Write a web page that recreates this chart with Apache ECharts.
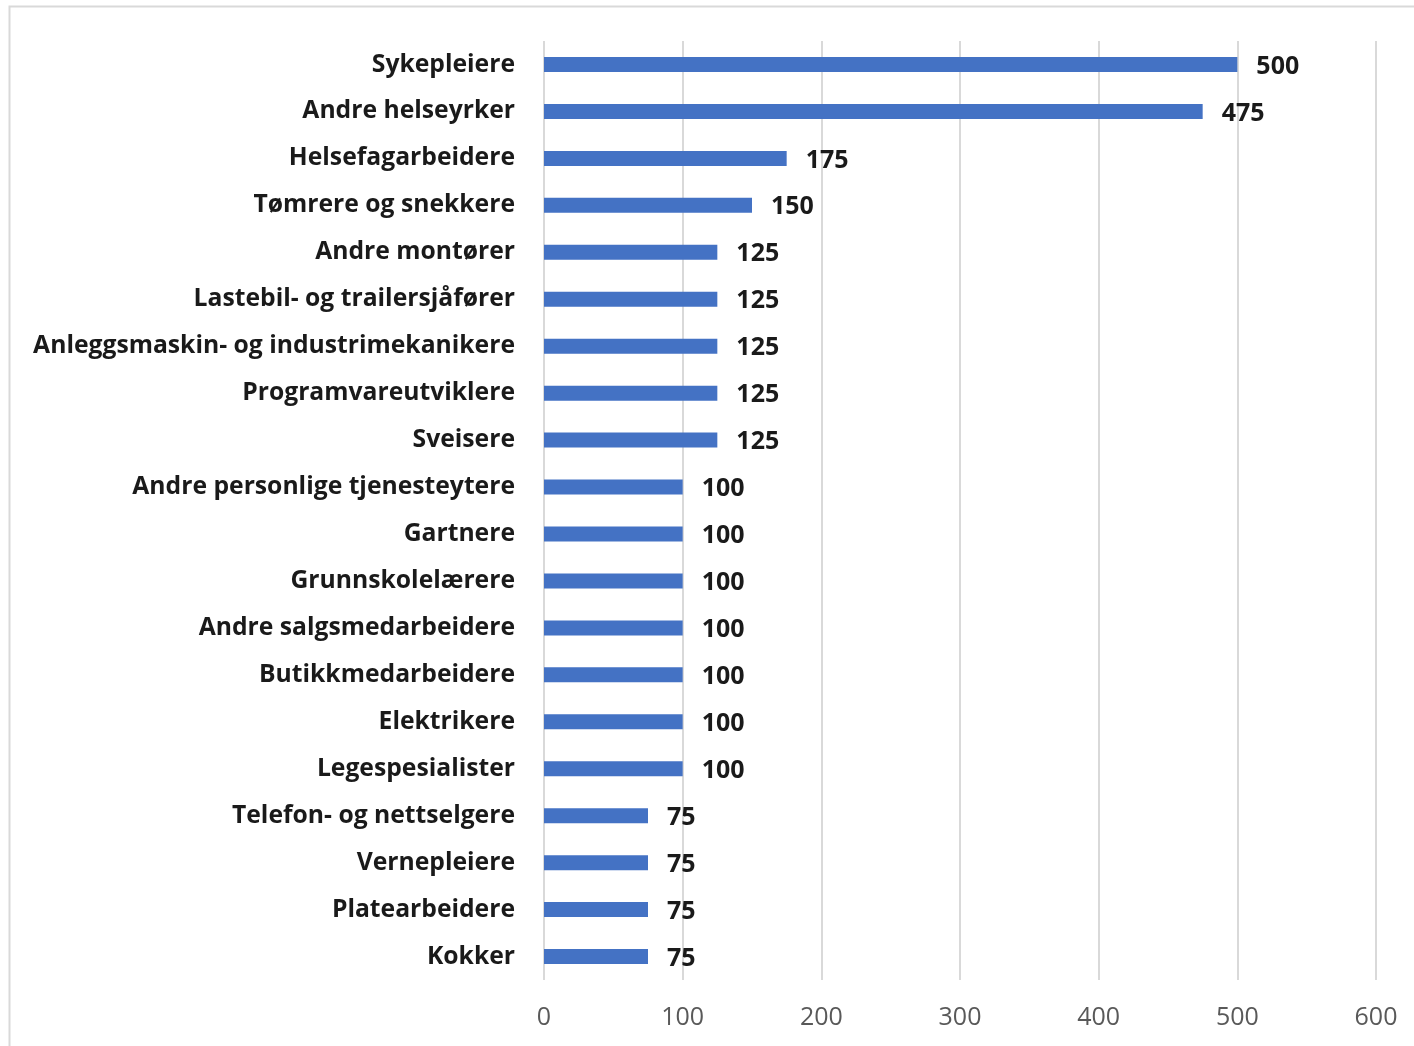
<!DOCTYPE html>
<html><head><meta charset="utf-8">
<script src="https://cdn.jsdelivr.net/npm/echarts@6/dist/echarts.min.js"></script>
<style>html,body{margin:0;padding:0;background:#fff}#c{width:1414px;height:1046px}</style>
</head><body><div id="c"></div>
<script>
const categories = ["Sykepleiere","Andre helseyrker","Helsefagarbeidere","Tømrere og snekkere","Andre montører","Lastebil- og trailersjåfører","Anleggsmaskin- og industrimekanikere","Programvareutviklere","Sveisere","Andre personlige tjenesteytere","Gartnere","Grunnskolelærere","Andre salgsmedarbeidere","Butikkmedarbeidere","Elektrikere","Legespesialister","Telefon- og nettselgere","Vernepleiere","Platearbeidere","Kokker"];
const values = [500,475,175,150,125,125,125,125,125,100,100,100,100,100,100,100,75,75,75,75];
const xTicks = [0,100,200,300,400,500,600];

const chart = echarts.init(document.getElementById('c'));
chart.setOption({
  animation:false,
  graphic:[{type:'rect',shape:{x:9.5,y:6.5,width:1440,height:1080},style:{fill:'none',stroke:'#d9d9d9',lineWidth:2},silent:true}],
  grid:{left:544,right:38,top:41,bottom:66,containLabel:false},
  xAxis:{type:'value',min:xTicks[0],max:xTicks[xTicks.length-1],interval:100,
    axisLine:{show:false},axisTick:{show:false},
    splitLine:{lineStyle:{color:'#d9d9d9',width:2}},
    axisLabel:{color:'#595959',fontSize:25,fontFamily:'Open Sans',margin:25}},
  yAxis:{type:'category',data:categories,inverse:true,
    axisLine:{show:false},axisTick:{show:false},
    axisLabel:{color:'#1a1a1a',fontSize:24.7,fontWeight:'bold',fontFamily:'Open Sans',margin:29,padding:[4,0,0,0]}},
  series:[{type:'bar',data:values,barWidth:15,itemStyle:{color:'#4472C4'},
    label:{show:true,position:'right',distance:19,color:'#1a1a1a',fontSize:25,fontWeight:'bold',fontFamily:'Open Sans',offset:[0,2]}}]
});
</script></body></html>
